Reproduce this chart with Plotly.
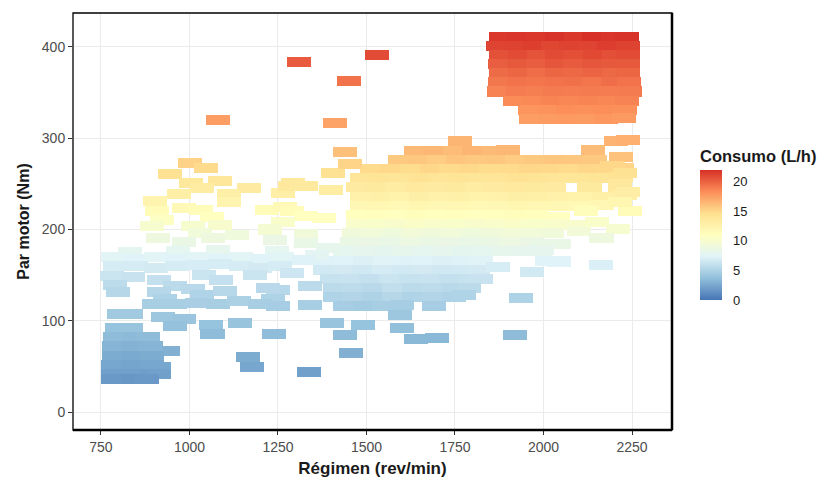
import plotly.graph_objects as go

# Engine operating map: each tile is one (engine speed, torque) cell coloured by fuel consumption.
regimen = [
    # 410 Nm band
    1880, 1932, 1985, 2038, 2091, 2144, 2197, 2236,
    1872, 1922, 1973, 2026, 2079, 2132, 2185, 2238,
    1880, 1933, 1986, 2039, 2092, 2145, 2198, 2240,
    1878, 1931, 1984, 2037, 2090, 2143, 2196, 2240,
    1880, 1933, 1986, 2039, 2092, 2145, 2198, 2240,
    1878, 1931, 1984, 2037, 2090, 2143, 2196, 2242,
    1875, 1928, 1981, 2034, 2087, 2140, 2193, 2245,
    1920, 1973, 2026, 2079, 2132, 2185, 2235,
    1962, 2015, 2068, 2121, 2174, 2230,
    1965, 2018, 2071, 2124, 2177, 2228,
    # isolated high-load points
    1310, 1530, 1450, 1080, 1410, 1764, 2140, 2205, 2238, 2219,
    # central area
    1640, 1695, 1750, 1805, 1860, 1900,
    1595, 1650, 1705, 1760, 1815, 1870, 1925, 1980, 2035, 2090, 2145,
    1516, 1572, 1628, 1684, 1740, 1796, 1852, 1908, 1964, 2020, 2076, 2132, 2180, 2222,
    1487, 1543, 1599, 1655, 1711, 1767, 1823, 1879, 1935, 1991, 2047, 2103, 2160, 2219,
    1475, 1531, 1587, 1643, 1699, 1755, 1811, 1867, 1923, 1979, 2030, 2130, 2215,
    1487, 1543, 1599, 1655, 1711, 1767, 1823, 1879, 1935, 1991, 2047, 2103, 2170, 2230,
    1487, 1543, 1599, 1655, 1711, 1767, 1823, 1879, 1935, 1991, 2047, 2103, 2165,
    1475, 1531, 1587, 1643, 1699, 1755, 1811, 1867, 1923, 1979, 2040, 2245,
    1475, 1531, 1587, 1643, 1699, 1755, 1811, 1867, 1923, 1979, 2035, 2085, 2210,
    1465, 1521, 1577, 1633, 1689, 1745, 1801, 1857, 1913, 1969, 2025, 2100, 2165,
    1460, 1516, 1572, 1628, 1684, 1740, 1796, 1852, 1908, 1964, 2000, 2045,
    1440, 1496, 1552, 1608, 1664, 1720, 1776, 1832, 1888, 1944, 1990,
    1385, 1440, 1496, 1552, 1608, 1664, 1720, 1776, 1823,
    1383, 1438, 1494, 1550, 1606, 1662, 1718, 1774, 1816,
    1402, 1458, 1514, 1570, 1626, 1682, 1738, 1794, 1823,
    1410, 1466, 1522, 1578, 1634, 1690, 1746, 1790,
    1410, 1466, 1522, 1578, 1634, 1690, 1746, 1775,
    1440, 1495, 1550, 1600,
    1595,
    # low-speed, mid-load points
    1001, 1047, 945, 1004, 1086, 1168, 1035, 970, 1112, 1112, 903, 1264, 1284, 1292, 1330, 1400, 1405, 1453, 1440,
    985, 1033, 908, 1219, 1270, 1290, 1330, 1380, 922, 1063, 1086, 1265, 894, 1010, 1030, 1227, 1330,
    911, 1066, 1134, 985, 1241, 1330, 1390, 1360, 832, 967, 1081, 1247,
    785, 845, 905, 965, 1025, 1085, 1145, 1205, 1260, 1320,
    790, 850, 905, 965, 1025, 1085, 1145, 1200, 1255,
    780, 840, 915, 1040, 1090, 1185, 1290,
    790, 960, 1340, 1250,
    798, 915, 1010, 1035, 1100, 1222,
    930, 1235, 900, 960, 1020, 1080, 1140, 1200, 1250, 1340,
    800, 835, 925, 985, 960, 1060, 1065, 1143,
    # scattered low-load points
    1240, 1402, 1490, 1600, 1440, 1640, 1700, 1690, 1456, 1338, 1165, 1177, 938, 1920, 1937,
    # high-speed, mid-load points
    2195, 2230, 2215, 2240, 2215, 2120, 2150, 2162, 2040, 1995, 1871, 2010, 2045, 1968, 2162,
    # idle area
    795, 834, 790, 845, 883, 786, 840, 890, 787, 840, 895,
    785, 840, 895, 915, 785, 840, 893, 915, 785, 840, 880,
]

par = [
    411, 411, 411, 411, 411, 411, 411, 411,
    401, 401, 401, 401, 401, 401, 401, 401,
    391, 391, 391, 391, 391, 391, 391, 391,
    381, 381, 381, 381, 381, 381, 381, 381,
    371, 371, 371, 371, 371, 371, 371, 371,
    361, 361, 361, 361, 361, 361, 361, 361,
    351, 351, 351, 351, 351, 351, 351, 351,
    341, 341, 341, 341, 341, 341, 341,
    331, 331, 331, 331, 331, 331,
    321, 321, 321, 321, 321, 322,
    383, 391, 363, 320, 317, 297, 287, 297, 298, 279,
    286, 286, 286, 286, 286, 287,
    276, 276, 276, 276, 276, 276, 276, 276, 276, 276, 276,
    266, 266, 266, 266, 266, 266, 266, 266, 266, 266, 266, 266, 266, 267,
    256, 256, 256, 256, 256, 256, 256, 256, 256, 256, 256, 256, 256, 257,
    246, 246, 246, 246, 246, 246, 246, 246, 246, 246, 246, 246, 247,
    236, 236, 236, 236, 236, 236, 236, 236, 236, 236, 236, 236, 236, 238,
    226, 226, 226, 226, 226, 226, 226, 226, 226, 226, 226, 226, 227,
    216, 216, 216, 216, 216, 216, 216, 216, 216, 216, 214, 220,
    206, 206, 206, 206, 206, 206, 206, 206, 206, 206, 206, 205, 201,
    196, 196, 196, 196, 196, 196, 196, 196, 196, 196, 196, 198, 191,
    186, 186, 186, 186, 186, 186, 186, 186, 186, 186, 184, 184,
    176, 176, 176, 176, 176, 176, 176, 176, 176, 176, 176,
    166, 166, 166, 166, 166, 166, 166, 166, 166,
    156, 156, 156, 156, 156, 156, 156, 156, 156,
    146, 146, 146, 146, 146, 146, 146, 146, 146,
    136, 136, 136, 136, 136, 136, 136, 136,
    126, 126, 126, 126, 126, 126, 126, 128,
    116, 116, 116, 117,
    106,
    273, 267, 261, 251, 253, 245, 245, 239, 239, 230, 231, 240, 248, 251, 248, 243, 262, 272, 285,
    224, 221, 220, 221, 225, 220, 215, 213, 210, 214, 205, 208, 204, 204, 196, 200, 195,
    191, 191, 194, 186, 188, 185, 180, 172, 175, 176, 178, 176,
    170, 168, 170, 168, 170, 168, 170, 168, 170, 167,
    160, 160, 158, 160, 161, 162, 160, 158, 160,
    149, 148, 145, 150, 145, 150, 152,
    139, 138, 138, 134,
    132, 132, 135, 128, 133, 136,
    124, 124, 118, 118, 120, 118, 122, 118, 116, 117,
    108, 108, 104, 102, 94, 96, 86, 98,
    86, 98, 96, 92, 85, 80, 81, 116, 65, 44, 60, 50, 67, 85, 125,
    270, 262, 250, 241, 230, 220, 208, 191, 184, 178, 159, 166, 165, 153, 161,
    92, 92, 82, 82, 82, 72, 72, 72, 62, 62, 62,
    52, 52, 52, 50, 42, 42, 42, 42, 36, 36, 36,
]

consumo = [
    21.6, 21.7, 21.6, 21.8, 21.6, 21.9, 21.7, 21.8,
    21.1, 21.2, 21.3, 21.0, 21.2, 21.1, 21.4, 21.2,
    20.6, 20.8, 20.5, 20.8, 20.7, 20.9, 20.7, 20.8,
    20.1, 20.3, 20.1, 20.4, 20.2, 20.4, 20.3, 20.3,
    19.6, 19.8, 19.5, 19.8, 19.7, 19.9, 19.7, 19.8,
    19.1, 19.3, 19.2, 19.3, 19.4, 19.2, 19.5, 19.3,
    18.7, 18.9, 18.8, 19.0, 18.9, 19.0, 18.9, 19.0,
    18.3, 18.4, 18.6, 18.5, 18.6, 18.5, 18.7,
    17.9, 18.0, 18.2, 18.1, 18.2, 18.1,
    17.5, 17.6, 17.7, 17.6, 17.8, 17.7,
    20.2, 20.8, 19.3, 17.5, 17.3, 16.5, 16.2, 16.6, 16.7, 15.9,
    16.3, 16.4, 16.2, 16.5, 16.3, 16.4,
    15.6, 15.7, 15.5, 15.8, 15.6, 15.7, 15.5, 15.6, 15.8, 15.7, 15.6,
    14.8, 14.9, 14.7, 15.0, 14.8, 14.9, 14.7, 14.8, 15.0, 14.9, 14.8, 15.0, 14.9, 15.1,
    14.0, 14.1, 13.9, 14.2, 14.0, 14.1, 13.9, 14.0, 14.2, 14.1, 14.0, 13.9, 14.1, 14.2,
    13.3, 13.4, 13.2, 13.5, 13.3, 13.4, 13.2, 13.3, 13.5, 13.4, 13.3, 13.4, 13.6,
    12.6, 12.7, 12.5, 12.8, 12.6, 12.7, 12.5, 12.6, 12.8, 12.7, 12.6, 12.5, 12.7, 12.9,
    11.8, 11.9, 11.7, 12.0, 11.8, 11.9, 11.7, 11.8, 12.0, 11.9, 11.8, 11.7, 11.9,
    11.0, 11.1, 10.9, 11.2, 11.0, 11.1, 10.9, 11.0, 11.2, 11.1, 10.8, 11.3,
    10.2, 10.3, 10.1, 10.4, 10.2, 10.3, 10.1, 10.2, 10.4, 10.3, 10.2, 10.1, 9.9,
    9.2, 9.3, 9.1, 9.4, 9.2, 9.3, 9.1, 9.2, 9.4, 9.3, 9.2, 9.4, 8.9,
    8.5, 8.6, 8.4, 8.7, 8.5, 8.6, 8.4, 8.5, 8.7, 8.6, 8.4, 8.5,
    7.9, 8.0, 7.8, 8.1, 7.9, 8.0, 7.8, 7.9, 8.1, 8.0, 7.9,
    7.2, 7.3, 7.1, 7.4, 7.2, 7.3, 7.1, 7.2, 7.4,
    6.6, 6.7, 6.5, 6.8, 6.6, 6.7, 6.5, 6.6, 6.7,
    6.1, 6.2, 6.0, 6.3, 6.1, 6.2, 6.0, 6.1, 6.2,
    5.6, 5.7, 5.5, 5.8, 5.6, 5.7, 5.5, 5.6,
    5.1, 5.2, 5.0, 5.3, 5.1, 5.2, 5.0, 5.1,
    4.6, 4.5, 4.7, 4.6,
    4.2,
    15.2, 14.8, 14.4, 13.7, 13.8, 13.3, 13.2, 12.8, 12.8, 12.2, 12.2, 12.9, 13.4, 13.6, 13.4, 13.1, 14.4, 15.1, 16.0,
    11.6, 11.4, 11.3, 11.4, 11.6, 11.3, 10.9, 10.8, 10.6, 10.9, 10.1, 10.3, 10.0, 10.0, 9.3, 9.7, 9.2,
    8.9, 8.9, 9.1, 8.5, 8.6, 8.4, 8.1, 7.6, 7.8, 7.9, 8.0, 7.9,
    7.5, 7.3, 7.5, 7.3, 7.5, 7.3, 7.5, 7.3, 7.5, 7.2,
    6.8, 6.8, 6.7, 6.8, 6.9, 6.9, 6.8, 6.7, 6.8,
    6.3, 6.2, 6.0, 6.3, 6.0, 6.3, 6.4,
    5.7, 5.6, 5.6, 5.4,
    5.3, 5.3, 5.5, 5.1, 5.4, 5.5,
    5.0, 5.0, 4.7, 4.7, 4.8, 4.7, 4.9, 4.7, 4.6, 4.7,
    4.4, 4.4, 4.2, 4.1, 3.8, 3.9, 3.5, 4.0,
    3.6, 4.0, 3.9, 3.7, 3.5, 3.3, 3.3, 4.6, 2.9, 2.1, 2.7, 2.4, 2.9, 3.5, 5.0,
    15.0, 14.4, 13.6, 13.0, 12.0, 11.2, 10.3, 8.9, 8.4, 8.0, 6.9, 7.3, 7.3, 6.6, 7.0,
    3.9, 4.0, 3.5, 3.4, 3.5, 3.1, 3.0, 3.1, 2.7, 2.6, 2.7,
    2.4, 2.3, 2.4, 2.4, 2.1, 2.1, 2.0, 2.1, 1.8, 1.7, 1.8,
]

assert len(regimen) == len(par) == len(consumo)

x_ticks = [750, 1000, 1250, 1500, 1750, 2000, 2250]
y_ticks = [0, 100, 200, 300, 400]
legend_ticks = [0, 5, 10, 15, 20]

TILE_W = 68   # rev/min
TILE_H = 11   # Nm
C_MIN, C_MAX = 0, 21.9

# Reversed 7-class RdYlBu
rdylbu_rev = [
    [0.0, "#4575b4"], [1 / 6, "#91bfdb"], [2 / 6, "#e0f3f8"], [3 / 6, "#ffffbf"],
    [4 / 6, "#fee090"], [5 / 6, "#fc8d59"], [1.0, "#d73027"],
]

FONT = "Liberation Sans, Arial, sans-serif"

# Figure geometry (pixels)
W, H = 824, 481
M_L, M_R, M_T, M_B = 73, 152, 13, 51
PLOT_W, PLOT_H = W - M_L - M_R, H - M_T - M_B
CB_LEFT, CB_THICK = 700, 22          # colour bar left edge and width
CB_BOTTOM, CB_TOP = 300, 171         # colour bar bottom / top edges
CB_TITLE_ROOM = 24

cb_x = (CB_LEFT - M_L) / PLOT_W
cb_y = (H - M_B - CB_BOTTOM) / PLOT_H

fig = go.Figure(
    go.Bar(
        x=regimen,
        y=[TILE_H] * len(par),
        base=[p - TILE_H / 2 for p in par],
        width=TILE_W,
        marker=dict(
            color=consumo,
            colorscale=rdylbu_rev,
            cmin=C_MIN,
            cmax=C_MAX,
            line=dict(width=0),
            showscale=True,
            colorbar=dict(
                title=dict(text="<b>Consumo (L/h)</b>", side="top",
                           font=dict(family=FONT, size=16.5, color="#1a1a1a")),
                thickness=CB_THICK, thicknessmode="pixels",
                len=CB_BOTTOM - CB_TOP + CB_TITLE_ROOM, lenmode="pixels",
                x=cb_x, xanchor="left", xpad=0,
                y=cb_y, yanchor="bottom", ypad=0,
                outlinewidth=0,
                # transparent outer ticks only space the labels away from the bar
                ticks="outside", ticklen=9, tickcolor="rgba(0,0,0,0)",
                tickvals=legend_ticks,
                tickfont=dict(family=FONT, size=13, color="#1a1a1a"),
            ),
        ),
        hovertemplate="%{x} rev/min<br>%{marker.color} L/h<extra></extra>",
    )
)

# White tick marks on both edges of the colour bar
legend_marks = []
for v in legend_ticks:
    py = CB_BOTTOM - (v - C_MIN) / (C_MAX - C_MIN) * (CB_BOTTOM - CB_TOP)
    yp = (H - M_B - py) / PLOT_H
    for x0, x1 in ((CB_LEFT, CB_LEFT + 5), (CB_LEFT + CB_THICK - 5, CB_LEFT + CB_THICK)):
        legend_marks.append(dict(
            type="line", xref="paper", yref="paper",
            x0=(x0 - M_L) / PLOT_W, x1=(x1 - M_L) / PLOT_W, y0=yp, y1=yp,
            line=dict(color="white", width=1.2), layer="above",
        ))

axis_common = dict(
    showgrid=True, gridcolor="#ebebeb", gridwidth=1,
    zeroline=False, showline=False, automargin=False,
    ticks="outside", ticklen=4, tickwidth=1, tickcolor="#333333",
    tickfont=dict(family=FONT, size=14, color="#4d4d4d"),
)

fig.update_layout(
    width=W, height=H,
    margin=dict(l=M_L, r=M_R, t=M_T, b=M_B, autoexpand=False),
    paper_bgcolor="white", plot_bgcolor="white",
    showlegend=False,
    bargap=0,
    font=dict(family=FONT),
    xaxis=dict(
        range=[671, 2363], tickvals=x_ticks,
        title=dict(text="<b>Régimen (rev/min)</b>", standoff=8,
                   font=dict(family=FONT, size=17, color="#1a1a1a")),
        **axis_common,
    ),
    yaxis=dict(
        range=[-19.4, 436.9], tickvals=y_ticks,
        title=dict(text="<b>Par motor (Nm)</b>", standoff=8,
                   font=dict(family=FONT, size=16, color="#1a1a1a")),
        **axis_common,
    ),
    shapes=[
        dict(type="rect", xref="paper", yref="paper", x0=0, x1=1, y0=0, y1=1,
             line=dict(color="black", width=1.3), layer="above"),
        dict(type="line", xref="paper", yref="paper", x0=0, x1=1, y0=0, y1=0,
             line=dict(color="black", width=2.5), layer="above"),
        dict(type="line", xref="paper", yref="paper", x0=1, x1=1, y0=0, y1=1,
             line=dict(color="black", width=2.5), layer="above"),
    ] + legend_marks,
)

fig.write_html("out.html")
